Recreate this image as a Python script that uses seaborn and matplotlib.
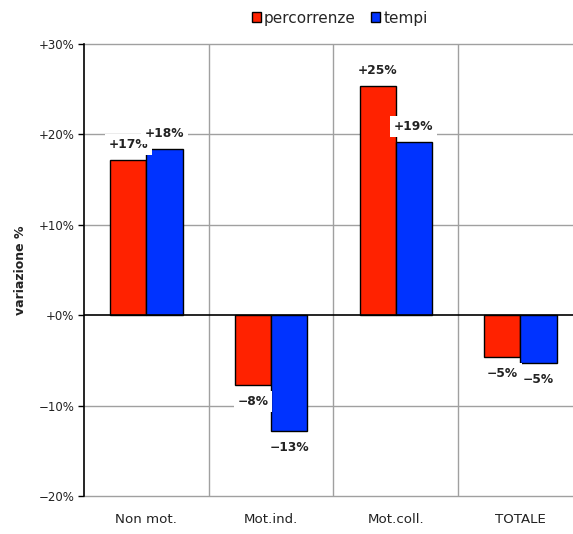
import matplotlib
matplotlib.use("Agg")
import matplotlib.pyplot as plt
import matplotlib.patches as mpatches
import seaborn as sns
import pandas as pd
import numpy as np

categories = ["Non mot.", "Mot.ind.", "Mot.coll.", "TOTALE"]
series = ["percorrenze", "tempi"]
percorrenze = [17.2, -7.7, 25.4, -4.6]
tempi = [18.4, -12.8, 19.2, -5.3]
yticks = [-20, -10, 0, 10, 20, 30]

colors = {"percorrenze": "#FF2200", "tempi": "#0033FF"}

df = pd.DataFrame({
    "categoria": categories * 2,
    "serie": ["percorrenze"] * 4 + ["tempi"] * 4,
    "valore": percorrenze + tempi,
})

sns.set_theme(style="white")
plt.rcParams["font.family"] = ["DejaVu Sans"]

fig = plt.figure(figsize=(5.73, 5.34), dpi=100)
ax = fig.add_axes([0.1466, 0.0712, 0.8705, 0.8464])

sns.barplot(data=df, x="categoria", y="valore", hue="serie", order=categories,
            hue_order=series, palette=colors, width=0.58, edgecolor="black",
            linewidth=1.0, saturation=1, ax=ax, legend=False, zorder=3)

ax.set_xlim(-0.5, 3.5)
ax.set_ylim(-20, 30)
ax.set_yticks(yticks)
ax.set_yticklabels([("+" if v >= 0 else "\u2212") + f"{abs(v)}%" for v in yticks],
                   fontsize=8.5, color="#222222")
ax.tick_params(axis="y", length=4, width=1, color="black", direction="out", pad=3, left=True)
ax.tick_params(axis="x", length=0, labelsize=9.6, pad=12, colors="#222222")

for v in yticks:
    if v != 0:
        ax.axhline(v, color="#a0a0a0", lw=1.0, zorder=1, clip_on=False)
for xv in [0.5, 1.5, 2.5]:
    ax.axvline(xv, color="#a0a0a0", lw=1.0, zorder=1)
ax.axhline(0, color="black", lw=1.2, zorder=4)

for s in ["top", "right", "bottom"]:
    ax.spines[s].set_visible(False)
ax.spines["left"].set_color("black")
ax.spines["left"].set_linewidth(1.2)
ax.spines["left"].set_zorder(5)

ax.set_xlabel("")
ax.set_ylabel("variazione %", fontsize=9, fontweight="bold", color="#222222")
ax.yaxis.set_label_coords(-0.128, 0.5)
ax.yaxis.label.set_va("center")

# value labels above / below each bar
for container, vals in zip(ax.containers, [percorrenze, tempi]):
    for bar, v in zip(container, vals):
        xc = bar.get_x() + bar.get_width() / 2
        off = 11 if v >= 0 else -12
        txt = ("+" if v >= 0 else "\u2212") + f"{abs(round(v)):d}%"
        ax.annotate(txt, (xc, v), xytext=(0, off), textcoords="offset points",
                    ha="center", va="center", fontsize=8.8, fontweight="bold",
                    color="#222222", zorder=6,
                    bbox=dict(boxstyle="square,pad=0.3", fc="white", ec="none"))

handles = [mpatches.Patch(facecolor=colors[s], edgecolor="black", lw=1) for s in series]
fig.legend(handles, series, loc="center", bbox_to_anchor=(0.593, 0.966), ncol=2,
           frameon=False, fontsize=11, handlelength=0.6, handleheight=0.6,
           handletextpad=0.2, columnspacing=1.0)

fig.savefig("out.png", dpi=100)
